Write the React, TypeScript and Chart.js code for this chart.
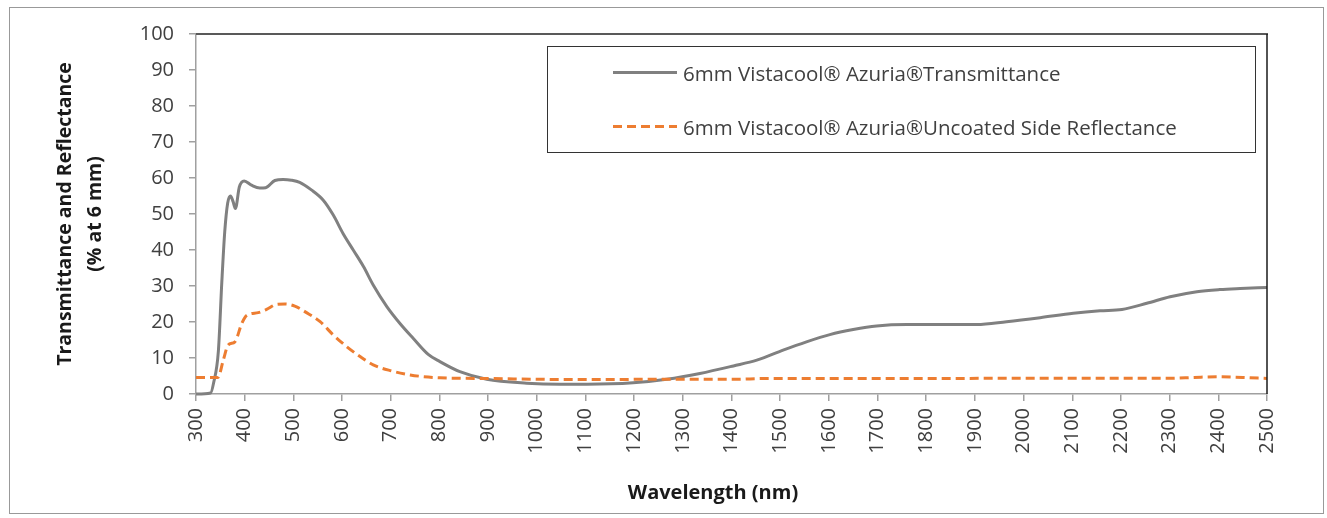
import React, { useEffect, useRef } from "react";
import { Chart, registerables } from "chart.js";

Chart.register(...registerables);

// ---- data ----
const transWavelength = [
  300, 330, 336, 346, 353, 359, 365, 371, 376, 381, 389, 399, 414, 431, 443, 462, 479, 496, 513, 537,
  561, 582, 602, 623, 644, 664, 692, 719, 746, 777, 801, 842, 897, 979, 1048, 1103, 1198, 1267, 1335,
  1404, 1452, 1506, 1554, 1602, 1650, 1698, 1760, 1828, 1904, 1965, 2034, 2102, 2157, 2202, 2253, 2301,
  2356, 2403, 2445, 2500,
];
const transValues = [
  0, 0.3, 3, 12, 31, 45, 53, 55, 53.5, 51.5, 57.5, 59.2, 58, 57.2, 57.3, 59.3, 59.6, 59.4, 58.8, 56.7,
  53.9, 49.7, 44.6, 40, 35.4, 30.3, 24.3, 19.6, 15.5, 11, 9, 6.2, 4.1, 3, 2.7, 2.7, 3.1, 4.1, 5.7,
  7.8, 9.4, 12.2, 14.5, 16.5, 17.9, 18.9, 19.3, 19.3, 19.3, 20.1, 21.2, 22.4, 23.1, 23.5, 25.2, 27,
  28.4, 29, 29.3, 29.6,
];
const reflWavelength = [
  300, 345, 356, 366, 380, 394, 404, 428, 445, 466, 483, 503, 527, 555, 582, 610, 637, 664, 699, 740,
  777, 801, 900, 1100, 1267, 1404, 1472, 1650, 2000, 2300, 2350, 2400, 2450, 2500,
];
const reflValues = [
  4.6, 4.6, 9.4, 13.6, 14.5, 19.6, 21.8, 22.6, 23.5, 24.9, 25, 24.4, 22.6, 20.1, 16.4, 13.1, 10.4, 8.1, 6.5, 5.3,
  4.7, 4.5, 4.3, 4.0, 4.1, 4.1, 4.3, 4.3, 4.35, 4.35, 4.6, 4.8, 4.6, 4.3,
];
const seriesNames = [
  "6mm Vistacool\u00AE Azuria\u00AETransmittance",
  "6mm Vistacool\u00AE Azuria\u00AEUncoated Side Reflectance",
];
const xTitle = "Wavelength (nm)";
const yTitle = ["Transmittance and Reflectance", "(% at 6 mm)"];
const xMin = 300;
const xMax = 2500;
const xStep = 100;
const yMin = 0;
const yMax = 100;
const yStep = 10;

const GRAY = "#808080";
const ORANGE = "#ED7D31";
const FONT = "'Open Sans'";
const TEXT = "#404040";
const AXIS = "#a0a0a0";

const framePlugin = {
  id: "frame",
  afterDatasetsDraw(chart: any) {
    const { ctx, chartArea } = chart;
    const { left, right, top, bottom } = chartArea;
    ctx.save();
    ctx.strokeStyle = "#595959";
    ctx.lineWidth = 2;
    ctx.beginPath();
    ctx.moveTo(left, top);
    ctx.lineTo(right + 1, top);
    ctx.stroke();
    ctx.strokeStyle = "#1a1a1a";
    ctx.lineWidth = 1.5;
    ctx.beginPath();
    ctx.moveTo(right, top);
    ctx.lineTo(right, bottom);
    ctx.stroke();
    ctx.restore();
  },
};

export default function App() {
  const ref = useRef<HTMLCanvasElement | null>(null);

  useEffect(() => {
    if (!ref.current) return;
    const chart = new Chart(ref.current, {
      type: "line",
      data: {
        datasets: [
          {
            label: seriesNames[0],
            data: transWavelength.map((x, i) => ({ x, y: transValues[i] })),
            borderColor: GRAY,
            backgroundColor: GRAY,
            borderWidth: 3,
            pointRadius: 0,
            cubicInterpolationMode: "monotone",
            fill: false,
            order: 1,
            clip: false,
          },
          {
            label: seriesNames[1],
            data: reflWavelength.map((x, i) => ({ x, y: reflValues[i] })),
            borderColor: ORANGE,
            backgroundColor: ORANGE,
            borderWidth: 3,
            borderDash: [9, 5],
            pointRadius: 0,
            cubicInterpolationMode: "monotone",
            fill: false,
            order: 0,
            clip: false,
          },
        ],
      },
      options: {
        responsive: false,
        animation: false,
        devicePixelRatio: 1,
        layout: { padding: { left: 0, top: 34, right: 60, bottom: 0 } },
        plugins: {
          legend: { display: false },
          tooltip: { enabled: false },
        },
        scales: {
          x: {
            type: "linear",
            min: xMin,
            max: xMax,
            afterFit(scale: any) {
              scale.height = 124;
              scale.paddingLeft = 0;
              scale.paddingRight = 0;
            },
            ticks: {
              stepSize: xStep,
              autoSkip: false,
              minRotation: 90,
              maxRotation: 90,
              padding: 7,
              color: TEXT,
              font: { family: FONT, size: 20 },
              callback: (v: any) => String(v),
            },
            grid: {
              drawOnChartArea: false,
              drawTicks: true,
              tickLength: 7,
              color: AXIS,
              lineWidth: 1.5,
            },
            border: { display: true, color: AXIS, width: 1.5 },
            title: { display: false },
          },
          y: {
            type: "linear",
            min: yMin,
            max: yMax,
            afterFit(scale: any) {
              scale.width = 196;
              scale.paddingTop = 0;
              scale.paddingBottom = 0;
            },
            ticks: {
              stepSize: yStep,
              padding: 15,
              color: TEXT,
              font: { family: FONT, size: 20 },
            },
            grid: {
              drawOnChartArea: false,
              drawTicks: true,
              tickLength: 7,
              color: AXIS,
              lineWidth: 1.5,
            },
            border: { display: true, color: AXIS, width: 1.5 },
            title: {
              display: true,
              text: yTitle,
              color: "#1a1a1a",
              font: { family: FONT, size: 19.5, weight: "bold", lineHeight: 30 / 19.5 },
              padding: { top: 50, bottom: 0 },
            },
          },
        },
      },
      plugins: [framePlugin],
    } as any);
    return () => chart.destroy();
  }, []);

  const legendRow = (top: number, dashed: boolean, text: string) => (
    <div
      style={{
        position: "absolute",
        left: 613,
        top: top - 15,
        height: 30,
        display: "flex",
        alignItems: "center",
        whiteSpace: "nowrap",
      }}
    >
      <div
        style={{
          width: 64,
          height: 3,
          marginRight: 6,
          background: dashed
            ? `repeating-linear-gradient(to right, ${ORANGE} 0px, ${ORANGE} 9px, transparent 9px, transparent 14px)`
            : GRAY,
        }}
      />
      <span style={{ fontFamily: FONT, fontSize: 20.5, color: TEXT, lineHeight: "30px" }}>{text}</span>
    </div>
  );

  return (
    <div style={{ position: "absolute", left: 0, top: 0, width: 1327, height: 518, background: "#fff" }}>
      <div
        style={{
          position: "absolute",
          left: 9,
          top: 7,
          width: 1315,
          height: 507,
          border: "1px solid #999",
          boxSizing: "border-box",
        }}
      />
      <canvas ref={ref} width={1327} height={518} style={{ position: "absolute", left: 0, top: 0 }} />
      <div
        style={{
          position: "absolute",
          left: 547,
          top: 46,
          width: 709,
          height: 107,
          border: "1px solid #333",
          boxSizing: "border-box",
        }}
      />
      {legendRow(72.5, false, seriesNames[0])}
      {legendRow(126.5, true, seriesNames[1])}
      <div
        style={{
          position: "absolute",
          left: 713 - 150,
          top: 492 - 15,
          width: 300,
          height: 30,
          lineHeight: "30px",
          textAlign: "center",
          fontFamily: FONT,
          fontWeight: "bold",
          fontSize: 20,
          color: "#1a1a1a",
        }}
      >
        {xTitle}
      </div>
    </div>
  );
}
